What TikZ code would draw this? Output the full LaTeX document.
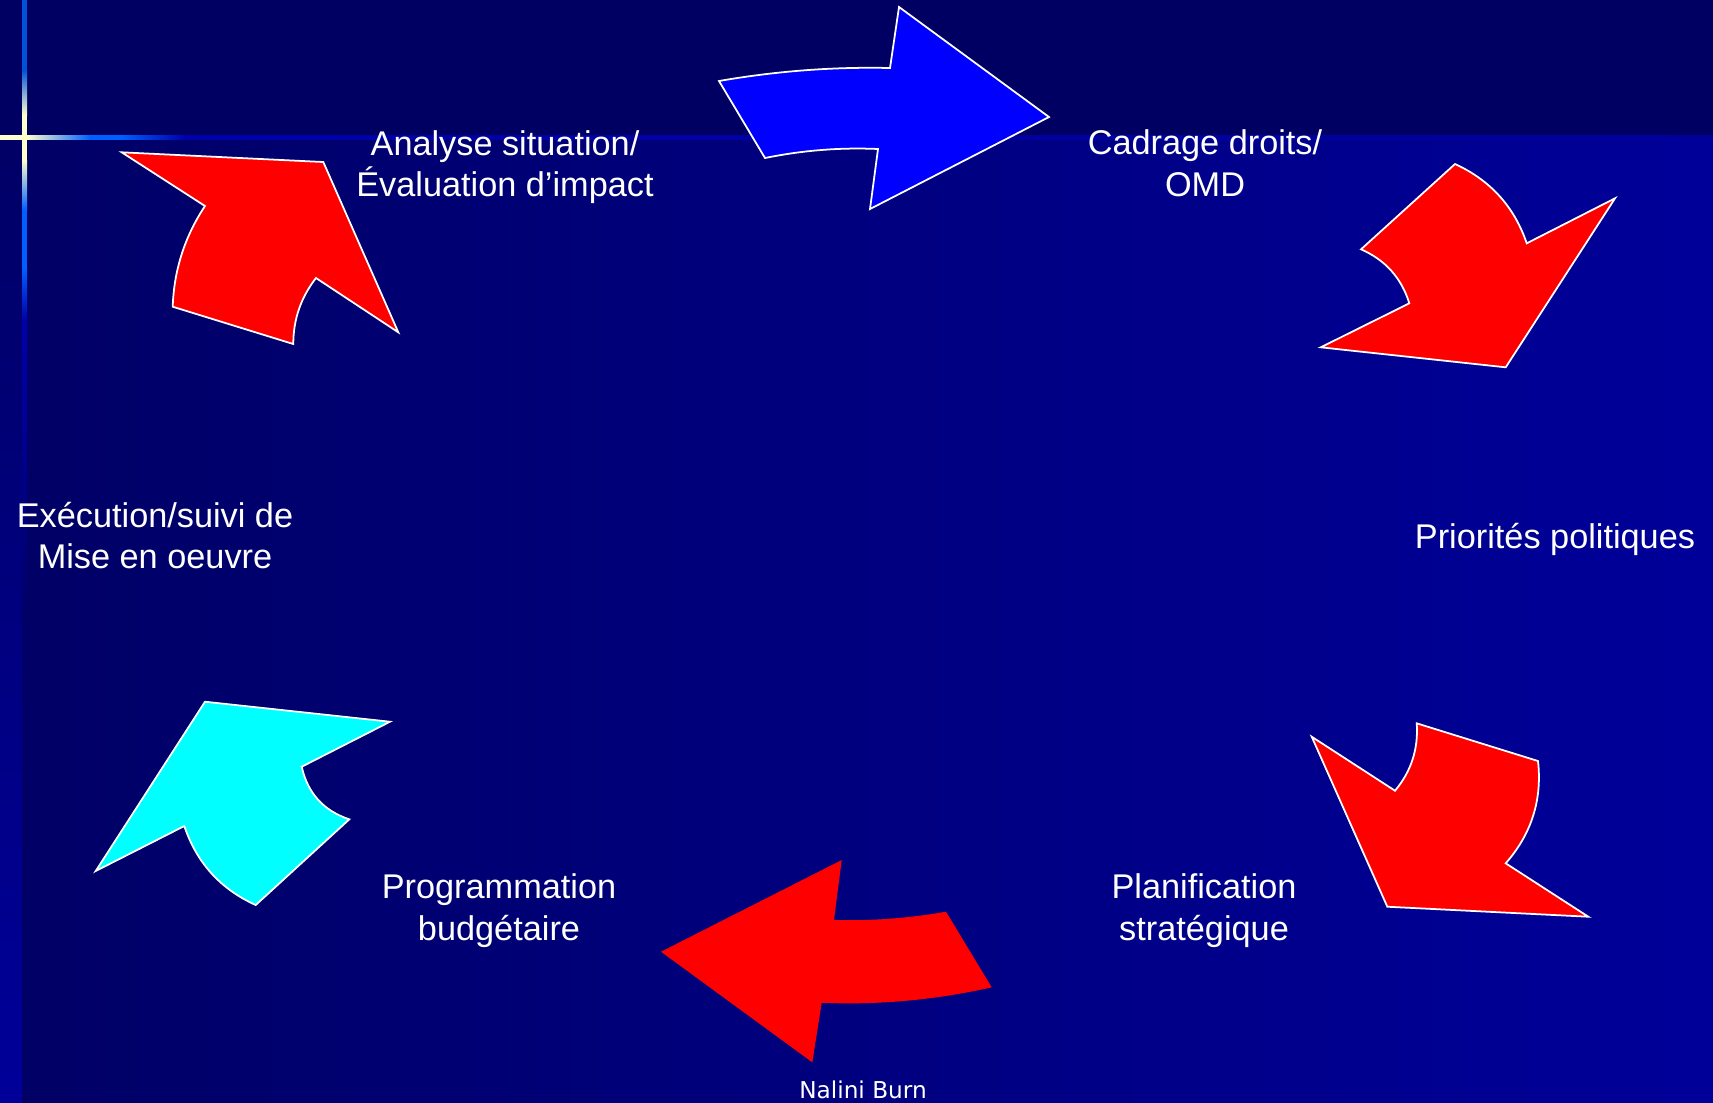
\documentclass[tikz,border=0pt]{standalone}
\usepackage{fontspec}
\setmainfont{Liberation Sans}
\newfontfamily\signfont{DejaVu Sans}
\usepackage{xcolor}
\definecolor{bandnavy}{RGB}{0,0,98}
\definecolor{deepnavy}{RGB}{0,0,102}
\definecolor{royalnavy}{RGB}{0,0,153}
\definecolor{flare}{RGB}{255,255,204}
\definecolor{glowblue}{RGB}{0,96,255}
\definecolor{lineblue}{RGB}{0,0,170}
\definecolor{arrowblue}{RGB}{0,0,255}
\definecolor{arrowred}{RGB}{255,0,0}
\definecolor{arrowcyan}{RGB}{0,255,255}

\begin{document}
\begin{tikzpicture}[x=0.01cm, y=-0.01cm,
    arrowshape/.style={draw=white, line width=0.5pt, line join=miter},
    lbl/.style={text=white, align=center, inner sep=0pt,
      font=\fontsize{9.75pt}{11.86pt}\selectfont},
    signature/.style={text=white, inner sep=0pt,
      font=\signfont\fontsize{6.6pt}{8pt}\selectfont}] % cycle

      \useasboundingbox (0,0) rectangle (1713,1102);

      % background
      \fill [bandnavy] (0,0) rectangle (1713,140);
      \shade [left color=deepnavy, right color=royalnavy] (22,140) rectangle (1713,1102);
      \shade [top color=deepnavy, bottom color=royalnavy] (0,140) rectangle (22,1102);

      % flare
      \fill [glowblue!85!black] (22,0) rectangle (27,70);
      \shade [top color=glowblue!85!black, bottom color=flare] (22,70) rectangle (27,115);
      \fill [flare] (22,115) rectangle (27,160);
      \shade [top color=flare, bottom color=glowblue] (22,160) rectangle (27,210);
      \fill [glowblue] (22,210) rectangle (27,268);
      \shade [top color=glowblue, bottom color=lineblue] (22,268) rectangle (27,320);
      \shade [top color=lineblue, bottom color=deepnavy] (22,320) rectangle (27,620);
      \fill [flare] (0,135) rectangle (27,139.5);
      \shade [left color=flare, right color=glowblue] (27,135) rectangle (90,139.5);
      \fill [glowblue] (90,135) rectangle (120,139.5);
      \shade [left color=glowblue, right color=lineblue] (120,135) rectangle (185,139.5);
      \shade [left color=lineblue, right color=royalnavy] (185,135) rectangle (1713,139.5);

      % arrows
      \filldraw [arrowshape, fill=arrowblue] (719,81) .. controls (776,71.1) and (833,66.7) .. (890,68)
      -- (899,7) -- (1049,117) -- (870,209) -- (878,149)
      .. controls (840.3,147.3) and (802.7,150.3) .. (765,158) -- cycle;
      \filldraw [arrowshape, fill=arrowred] (1455,164) .. controls (1490.3,180.2) and (1514.2,206.6) .. (1526.7,243.3)
      -- (1615,198.3) -- (1505.7,367.3) -- (1320.7,347.3) -- (1409.3,303.3)
      .. controls (1401.4,277.9) and (1385.3,259.9) .. (1361,249.3) -- cycle;
      \filldraw [arrowshape, fill=arrowred] (1416.7,723.3) -- (1538,761)
      .. controls (1542.3,799.8) and (1531.5,833.9) .. (1505.7,863.3) -- (1588.3,916.7) -- (1387.3,906.7)
      -- (1311.7,736.7) -- (1395,790.7) .. controls (1411.3,771.2) and (1418.5,748.7) .. (1416.7,723.3) -- cycle;
      \fill [arrowred] (841.7,860) -- (661,951.7) -- (812.3,1062.3) -- (821.7,1002.7)
      .. controls (878.4,1005.2) and (935,1000) .. (991.7,987.3) -- (946,911.7)
      .. controls (908.7,918.2) and (871.3,921) .. (834,920) -- cycle;
      \filldraw [arrowshape, fill=arrowcyan] (205,701.7) -- (390,721.7) -- (301.7,766.7)
      .. controls (307.7,793.2) and (323.5,810.7) .. (349.3,819.3) -- (255.7,905)
      .. controls (220.4,889) and (196.6,862.7) .. (184.3,826) -- (95.7,871) -- cycle;
      \filldraw [arrowshape, fill=arrowred] (121.7,152.3) -- (323.3,162) -- (398.3,332.3)
      -- (316,278) .. controls (300.9,297.4) and (293.3,319.4) .. (293.3,344) -- (172.7,306.7)
      .. controls (174,270.1) and (184.7,236.5) .. (205,206) -- cycle;

      % steps
      \node [lbl] (analyse) at (505,167) {Analyse situation/\\Évaluation d’impact};
      \node [lbl] (cadrage) at (1205,163.5) {Cadrage droits/\\OMD};
      \node [lbl, anchor=base] (priorites) at (1555,548) {Priorités politiques};
      \node [lbl] (planification) at (1204,910.5) {Planification\\stratégique};
      \node [lbl] (programmation) at (499,910.5) {Programmation\\budgétaire};
      \node [lbl] (execution) at (155,535.5) {Exécution/suivi de\\Mise en oeuvre};
      \node [signature, anchor=base] (auteur) at (863,1098) {Nalini Burn};

    \end{tikzpicture}
\end{document}
